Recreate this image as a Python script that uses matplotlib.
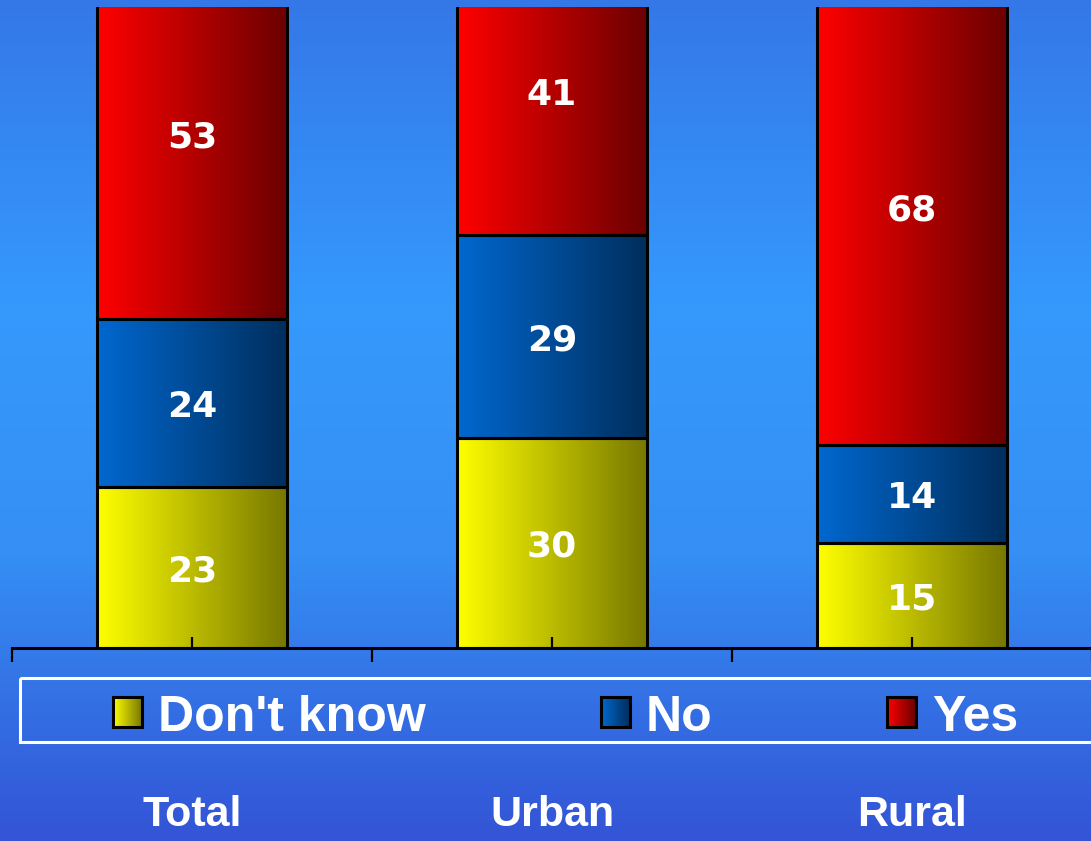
import numpy as np
import matplotlib
matplotlib.use('Agg')
import matplotlib.pyplot as plt
from matplotlib.colors import LinearSegmentedColormap, to_rgb
from matplotlib.patches import Rectangle

plt.rcParams['font.family'] = ['Liberation Sans', 'DejaVu Sans']
plt.rcParams['font.weight'] = 'bold'

# ==== data ====
categories = ['Total', 'Urban', 'Rural']
series = ["Don't know", 'No', 'Yes']
dont_know = [23, 30, 15]
no = [24, 29, 14]
yes = [53, 41, 68]

# left -> right gradient colours of each series
grad_colors = {
    "Don't know": ('#FFFF00', '#777700'),
    'No': ('#0068D0', '#002E5C'),
    'Yes': ('#FF0000', '#6A0000'),
}

W, H = 1091, 841
fig = plt.figure(figsize=(W / 100, H / 100), dpi=100)

# ==== background: vertical blue gradient ====
bg = fig.add_axes([0, 0, 1, 1], zorder=0)
bg_cmap = LinearSegmentedColormap.from_list(
    'bg', [(0.0, '#3478E8'), (0.36, '#3599FC'), (0.66, '#358FF4'), (1.0, '#3354D6')])
bg.imshow(np.linspace(0, 1, 256).reshape(-1, 1), cmap=bg_cmap, aspect='auto',
          extent=[0, 1, 1, 0], interpolation='bilinear')
bg.set_xlim(0, 1)
bg.set_ylim(1, 0)
bg.axis('off')


def grad_fill(axis, patch, c0, c1):
    # horizontal gradient clipped to the patch (and to the axes box)
    x0, y0 = patch.get_x(), patch.get_y()
    w, h = patch.get_width(), patch.get_height()
    cm = LinearSegmentedColormap.from_list('g', [to_rgb(c0), to_rgb(c1)])
    im = axis.imshow(np.linspace(0, 1, 256).reshape(1, -1), cmap=cm, aspect='auto',
                     extent=[x0, x0 + w, y0, y0 + h], interpolation='bilinear',
                     zorder=patch.get_zorder() - 0.5)
    im.set_clip_path(patch)
    im.set_clip_box(axis.bbox)


# ==== main axes ====
ax = fig.add_axes([12 / W, (H - 648) / H, 1080 / W, (648 - 7) / H], zorder=1)
ax.patch.set_alpha(0)
x = np.arange(len(categories))
bw = 0.53
bottom = np.zeros(len(categories))
for name, vals in zip(series, [dont_know, no, yes]):
    bars = ax.bar(x, vals, bw, bottom=bottom, facecolor='none', edgecolor='black',
                  linewidth=2.2, zorder=2)
    for b in bars:
        grad_fill(ax, b, *grad_colors[name])
    for xi, v, b0 in zip(x, vals, bottom):
        ax.text(xi, b0 + v / 2, str(v), ha='center', va='center_baseline', color='white',
                fontsize=26, fontweight='bold', family='DejaVu Sans', zorder=5)
    bottom = bottom + np.array(vals)

ax.set_xlim(-0.5, 2.5)
ax.set_ylim(0, 91.6)
for s in ['top', 'right', 'left']:
    ax.spines[s].set_visible(False)
ax.spines['bottom'].set_linewidth(2.2)
ax.spines['bottom'].set_zorder(4)
ax.set_yticks([])
ax.set_xticks(x)
ax.set_xticklabels(categories, fontsize=31, color='white', fontweight='bold')
ax.set_xticks([-0.5, 0.5, 1.5, 2.5], minor=True)
ax.tick_params(axis='x', which='major', direction='in', length=8, width=1.6, pad=106)
ax.tick_params(axis='x', which='minor', direction='out', length=10, width=1.6)
ax.xaxis.set_zorder(4)

# ==== legend (overlay in pixel coordinates) ====
lg = fig.add_axes([0, 0, 1, 1], zorder=2)
lg.set_xlim(0, W)
lg.set_ylim(H, 0)
lg.axis('off')
lg.add_patch(Rectangle((20, 678), 1100, 64, facecolor='none', edgecolor='white',
                       linewidth=2.2))
legend_x = [113, 601, 887]
for lx, name in zip(legend_x, series):
    sq = Rectangle((lx, 697), 29, 30, facecolor='none', edgecolor='black',
                   linewidth=2.2, zorder=3)
    lg.add_patch(sq)
    grad_fill(lg, sq, *grad_colors[name])
    lg.text(lx + 45, 713, name, ha='left', va='center_baseline', color='white',
            fontsize=36, fontweight='bold')
lg.set_ylim(H, 0)

fig.savefig('out.png', dpi=100)
